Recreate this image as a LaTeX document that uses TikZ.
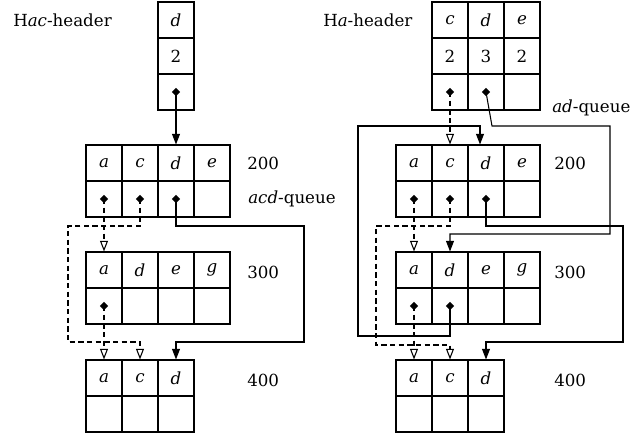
\documentclass[tikz,border=0pt]{standalone}
\usepackage{fontspec}
\setmainfont{DejaVu Serif}
\usetikzlibrary{shapes}
\usetikzlibrary{arrows.meta}

\begin{document}
\begin{tikzpicture}[x=0.75pt,y=-0.75pt]
\tikzset{cell/.style = {shape=rectangle,draw,line width=0.8pt,minimum size=27pt,inner sep=0pt,font=\fontsize{12.5}{15}\selectfont}}
\tikzset{tag/.style = {anchor=west,inner sep=0pt,font=\fontsize{12.5}{15}\selectfont}}
\tikzset{dot/.style = {shape=diamond,fill,inner sep=0pt,minimum size=6.5pt}}
\tikzset{link/.style = {-{Triangle[length=8pt,width=6pt]},line width=0.8pt}}
\tikzset{dlink/.style = {-{Triangle[open,length=8pt,width=6pt]},line width=0.8pt,dash pattern=on 4pt off 2.5pt}}
\useasboundingbox (0,0) rectangle (644,436);

% left: Hac-header
\node[tag] (lhtitle) at (13,20) {H\textit{ac}-header};
\node[cell] (LHd) at (176,20) {\textit{d}};
\node[cell] (LHn) at (176,56) {2};
\node[cell] (LHp) at (176,92) {};
\node[dot] (dLHd) at (LHp) {};

% left: node 200
\node[cell] (L200a) at (104,163) {\textit{a}};
\node[cell] (L200c) at (140,163) {\textit{c}};
\node[cell] (L200d) at (176,163) {\textit{d}};
\node[cell] (L200e) at (212,163) {\textit{e}};
\node[cell] (L200pa) at (104,199) {};
\node[cell] (L200pc) at (140,199) {};
\node[cell] (L200pd) at (176,199) {};
\node[cell] (L200pe) at (212,199) {};
\node[dot] (dL200a) at (L200pa) {};
\node[dot] (dL200c) at (L200pc) {};
\node[dot] (dL200d) at (L200pd) {};
\node[tag] (l200) at (247,163) {200};
\node[tag] (lqueue) at (248,199) {\textit{acd}-queue};

% left: node 300
\node[cell] (L300a) at (104,270) {\textit{a}};
\node[cell] (L300d) at (140,270) {\textit{d}};
\node[cell] (L300e) at (176,270) {\textit{e}};
\node[cell] (L300g) at (212,270) {\textit{g}};
\node[cell] (L300pa) at (104,306) {};
\node[cell] (L300pd) at (140,306) {};
\node[cell] (L300pe) at (176,306) {};
\node[cell] (L300pg) at (212,306) {};
\node[dot] (dL300a) at (L300pa) {};
\node[tag] (l300) at (247,272) {300};

% left: node 400
\node[cell] (L400a) at (104,378) {\textit{a}};
\node[cell] (L400c) at (140,378) {\textit{c}};
\node[cell] (L400d) at (176,378) {\textit{d}};
\node[cell] (L400pa) at (104,414) {};
\node[cell] (L400pc) at (140,414) {};
\node[cell] (L400pd) at (176,414) {};
\node[tag] (l400) at (247,380) {400};

%edges
\draw[link] (dLHd.center) -- (L200d.north);
\draw[dlink] (dL200a.center) -- (L300a.north);
\draw[dlink] (dL200c.center) |- (68,226) -- (68,342) -| (L400c.north);
\draw[dlink] (dL300a.center) -- (L400a.north);
\draw[link] (dL200d.center) |- (304,226) -- (304,342) -| (L400d.north);

% right: Ha-header
\node[tag] (rhtitle) at (323,20) {H\textit{a}-header};
\node[cell] (RHc) at (450,20) {\textit{c}};
\node[cell] (RHd) at (486,20) {\textit{d}};
\node[cell] (RHe) at (522,20) {\textit{e}};
\node[cell] (RHnc) at (450,56) {2};
\node[cell] (RHnd) at (486,56) {3};
\node[cell] (RHne) at (522,56) {2};
\node[cell] (RHpc) at (450,92) {};
\node[cell] (RHpd) at (486,92) {};
\node[cell] (RHpe) at (522,92) {};
\node[dot] (dRHc) at (RHpc) {};
\node[dot] (dRHd) at (RHpd) {};
\node[tag] (rqueue) at (552,108) {\textit{ad}-queue};

% right: node 200
\node[cell] (R200a) at (414,163) {\textit{a}};
\node[cell] (R200c) at (450,163) {\textit{c}};
\node[cell] (R200d) at (486,163) {\textit{d}};
\node[cell] (R200e) at (522,163) {\textit{e}};
\node[cell] (R200pa) at (414,199) {};
\node[cell] (R200pc) at (450,199) {};
\node[cell] (R200pd) at (486,199) {};
\node[cell] (R200pe) at (522,199) {};
\node[dot] (dR200a) at (R200pa) {};
\node[dot] (dR200c) at (R200pc) {};
\node[dot] (dR200d) at (R200pd) {};
\node[tag] (r200) at (554,163) {200};

% right: node 300
\node[cell] (R300a) at (414,270) {\textit{a}};
\node[cell] (R300d) at (450,270) {\textit{d}};
\node[cell] (R300e) at (486,270) {\textit{e}};
\node[cell] (R300g) at (522,270) {\textit{g}};
\node[cell] (R300pa) at (414,306) {};
\node[cell] (R300pd) at (450,306) {};
\node[cell] (R300pe) at (486,306) {};
\node[cell] (R300pg) at (522,306) {};
\node[dot] (dR300a) at (R300pa) {};
\node[dot] (dR300d) at (R300pd) {};
\node[tag] (r300) at (554,272) {300};

% right: node 400
\node[cell] (R400a) at (414,378) {\textit{a}};
\node[cell] (R400c) at (450,378) {\textit{c}};
\node[cell] (R400d) at (486,378) {\textit{d}};
\node[cell] (R400pa) at (414,414) {};
\node[cell] (R400pc) at (450,414) {};
\node[cell] (R400pd) at (486,414) {};
\node[tag] (r400) at (554,380) {400};

%edges
\draw[dlink] (dRHc.center) -- (R200c.north);
\draw[link] (dRHd.center) -- (492,126) -- (610,126) -- (610,234) -| (R300d.north);
\draw[link] (dR300d.center) |- (358,336) -- (358,126) -| ([xshift=-4.5pt]R200d.north);
\draw[dlink] (dR200a.center) -- (R300a.north);
\draw[dlink] (dR200c.center) |- (376,226) -- (376,345) -| (R400c.north);
\draw[dlink] (dR300a.center) -- (R400a.north);
\draw[link] (dR200d.center) |- (623,226) -- (623,342) -| (R400d.north);

\end{tikzpicture}
\end{document}
